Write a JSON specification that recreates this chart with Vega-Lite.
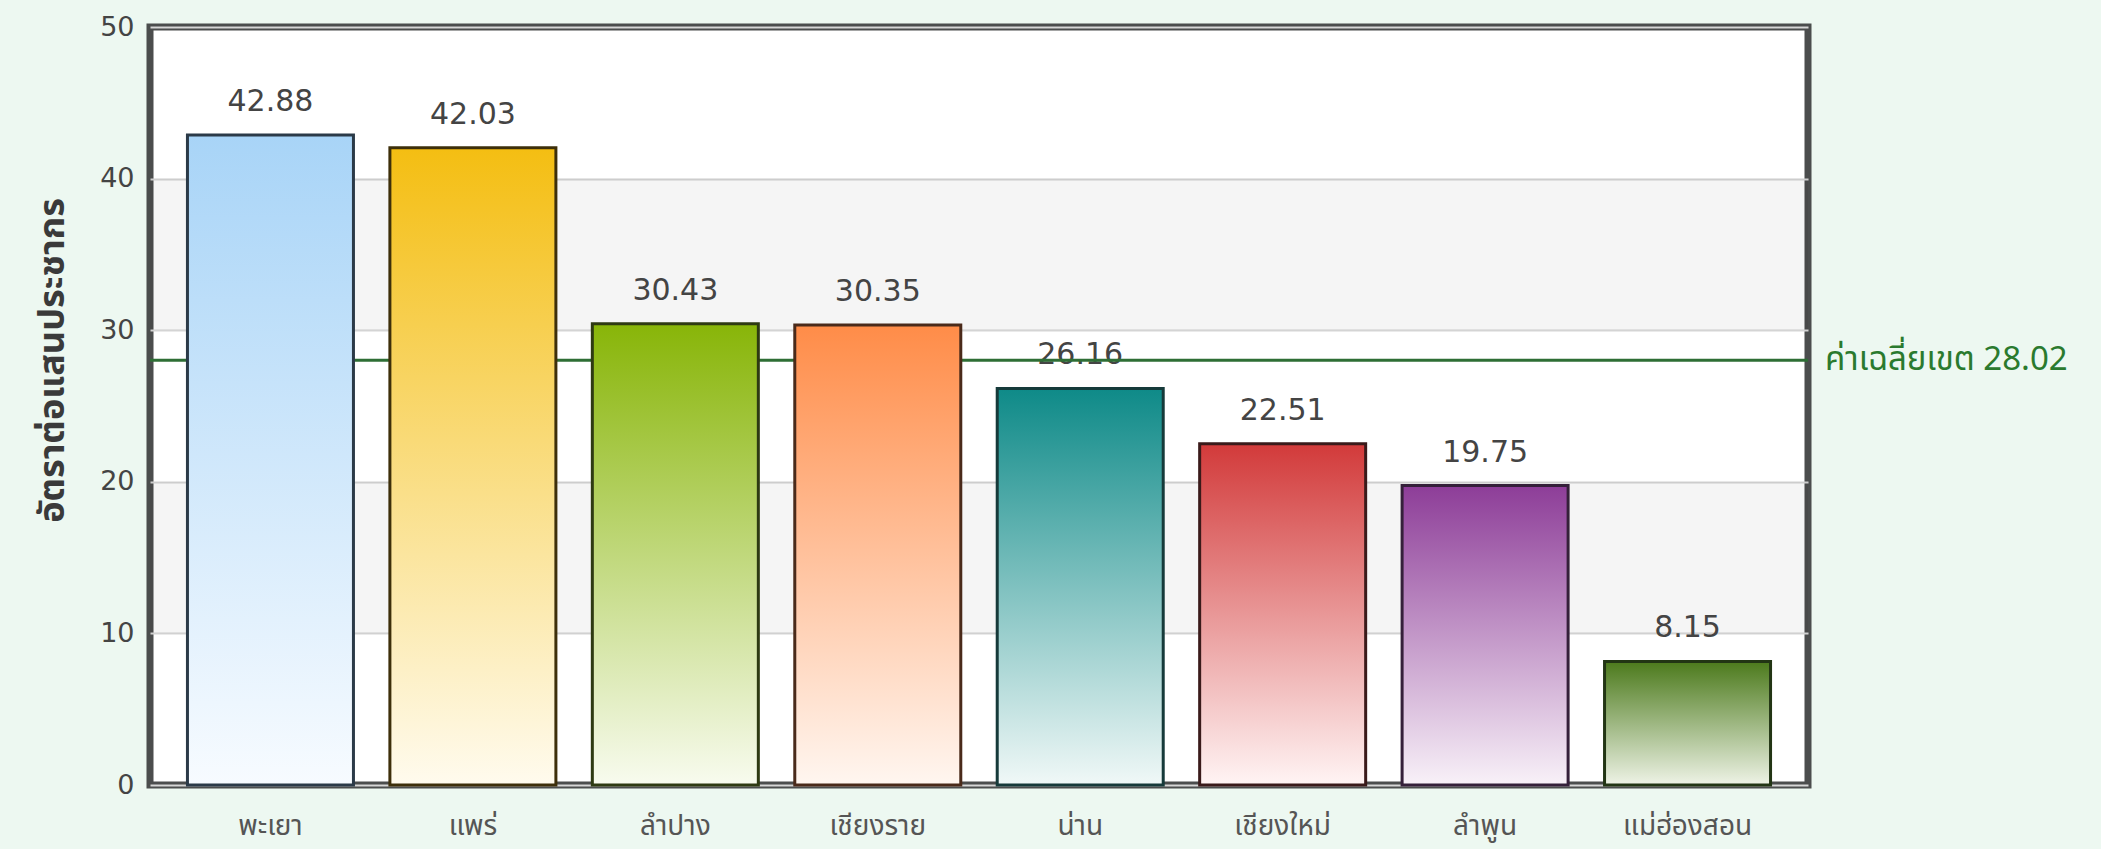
{
  "$schema": "https://vega.github.io/schema/vega-lite/v6.json",
  "width": 1658,
  "height": 758,
  "autosize": {"type": "none"},
  "padding": {"left": 150, "top": 27, "right": 293, "bottom": 64},
  "background": "#edf8f1",
  "config": {
    "view": {"fill": "white", "stroke": "#4b4d4d", "strokeWidth": 7},
    "font": "DejaVu Sans"
  },
  "datasets": {
    "rates": [
      {"province": "พะเยา", "rate": 42.88},
      {"province": "แพร่", "rate": 42.03},
      {"province": "ลำปาง", "rate": 30.43},
      {"province": "เชียงราย", "rate": 30.35},
      {"province": "น่าน", "rate": 26.16},
      {"province": "เชียงใหม่", "rate": 22.51},
      {"province": "ลำพูน", "rate": 19.75},
      {"province": "แม่ฮ่องสอน", "rate": 8.15}
    ],
    "bands": [
      {"lo": 10, "hi": 20},
      {"lo": 30, "hi": 40}
    ],
    "average": [
      {"label": "ค่าเฉลี่ยเขต 28.02", "value": 28.02}
    ]
  },
  "data": {"name": "rates"},
  "encoding": {
    "x": {
      "field": "province",
      "type": "nominal",
      "sort": null,
      "scale": {"paddingInner": 0.18, "paddingOuter": 0.185},
      "axis": {
        "title": null,
        "domain": false,
        "ticks": false,
        "labelAngle": 0,
        "labelFont": "Tahoma, Noto Sans Thai, Noto Sans, DejaVu Sans, sans-serif",
        "labelFontSize": 28,
        "labelColor": "#555555",
        "labelPadding": 41,
        "labelBaseline": "middle"
      }
    }
  },
  "layer": [
    {
      "data": {"name": "bands"},
      "mark": {"type": "rect", "fill": "#000000", "opacity": 0.04},
      "encoding": {
        "x": null,
        "y": {
          "field": "lo",
          "type": "quantitative",
          "scale": {"domain": [0, 50], "nice": false},
          "axis": {
            "title": "อัตราต่อแสนประชากร",
            "titleFont": "Tahoma, Noto Sans Thai, Noto Sans, DejaVu Sans, sans-serif",
            "titleFontSize": 36,
            "titleFontWeight": "bold",
            "titleColor": "#3a3a3a",
            "titleX": -98,
            "titleY": 333,
            "titleAlign": "center",
            "titleBaseline": "middle",
            "values": [0, 10, 20, 30, 40, 50],
            "domain": false,
            "ticks": false,
            "grid": true,
            "gridColor": "#d6d6d6",
            "gridWidth": 2,
            "labelFontSize": 27,
            "labelColor": "#444444",
            "labelPadding": 16
          }
        },
        "y2": {"field": "hi"}
      }
    },
    {
      "mark": {"type": "text", "baseline": "middle", "dy": -33, "fontSize": 30, "color": "#444444"},
      "encoding": {
        "y": {"field": "rate", "type": "quantitative"},
        "text": {"field": "rate", "type": "quantitative", "format": ".2f"}
      }
    },
    {
      "data": {"name": "average"},
      "mark": {"type": "rule", "color": "#2e6e35", "strokeWidth": 3},
      "encoding": {
        "x": null,
        "y": {"field": "value", "type": "quantitative"}
      }
    },
    {
      "transform": [{"filter": "datum.province === 'พะเยา'"}],
      "mark": {"type": "bar", "stroke": "#2b3a48", "strokeWidth": 3,
        "color": {"gradient": "linear", "x1": 0, "y1": 0, "x2": 0, "y2": 1,
          "stops": [{"offset": 0, "color": "#a8d4f7"}, {"offset": 1, "color": "#f7fbff"}]}},
      "encoding": {"y": {"field": "rate", "type": "quantitative"}}
    },
    {
      "transform": [{"filter": "datum.province === 'แพร่'"}],
      "mark": {"type": "bar", "stroke": "#3d2f0a", "strokeWidth": 3,
        "color": {"gradient": "linear", "x1": 0, "y1": 0, "x2": 0, "y2": 1,
          "stops": [{"offset": 0, "color": "#f4be12"}, {"offset": 1, "color": "#fffbee"}]}},
      "encoding": {"y": {"field": "rate", "type": "quantitative"}}
    },
    {
      "transform": [{"filter": "datum.province === 'ลำปาง'"}],
      "mark": {"type": "bar", "stroke": "#2e3a12", "strokeWidth": 3,
        "color": {"gradient": "linear", "x1": 0, "y1": 0, "x2": 0, "y2": 1,
          "stops": [{"offset": 0, "color": "#88b508"}, {"offset": 1, "color": "#f8fbef"}]}},
      "encoding": {"y": {"field": "rate", "type": "quantitative"}}
    },
    {
      "transform": [{"filter": "datum.province === 'เชียงราย'"}],
      "mark": {"type": "bar", "stroke": "#4a2a1a", "strokeWidth": 3,
        "color": {"gradient": "linear", "x1": 0, "y1": 0, "x2": 0, "y2": 1,
          "stops": [{"offset": 0, "color": "#ff8c48"}, {"offset": 1, "color": "#fff6f0"}]}},
      "encoding": {"y": {"field": "rate", "type": "quantitative"}}
    },
    {
      "transform": [{"filter": "datum.province === 'น่าน'"}],
      "mark": {"type": "bar", "stroke": "#163a3a", "strokeWidth": 3,
        "color": {"gradient": "linear", "x1": 0, "y1": 0, "x2": 0, "y2": 1,
          "stops": [{"offset": 0, "color": "#0e8a88"}, {"offset": 1, "color": "#f0f8f7"}]}},
      "encoding": {"y": {"field": "rate", "type": "quantitative"}}
    },
    {
      "transform": [{"filter": "datum.province === 'เชียงใหม่'"}],
      "mark": {"type": "bar", "stroke": "#3a1a1a", "strokeWidth": 3,
        "color": {"gradient": "linear", "x1": 0, "y1": 0, "x2": 0, "y2": 1,
          "stops": [{"offset": 0, "color": "#d23a3a"}, {"offset": 1, "color": "#fff4f4"}]}},
      "encoding": {"y": {"field": "rate", "type": "quantitative"}}
    },
    {
      "transform": [{"filter": "datum.province === 'ลำพูน'"}],
      "mark": {"type": "bar", "stroke": "#35203a", "strokeWidth": 3,
        "color": {"gradient": "linear", "x1": 0, "y1": 0, "x2": 0, "y2": 1,
          "stops": [{"offset": 0, "color": "#8d3d98"}, {"offset": 1, "color": "#f8f1f8"}]}},
      "encoding": {"y": {"field": "rate", "type": "quantitative"}}
    },
    {
      "transform": [{"filter": "datum.province === 'แม่ฮ่องสอน'"}],
      "mark": {"type": "bar", "stroke": "#223514", "strokeWidth": 3,
        "color": {"gradient": "linear", "x1": 0, "y1": 0, "x2": 0, "y2": 1,
          "stops": [{"offset": 0, "color": "#4c7a1c"}, {"offset": 1, "color": "#eef3e6"}]}},
      "encoding": {"y": {"field": "rate", "type": "quantitative"}}
    },
    {
      "data": {"name": "average"},
      "mark": {"type": "text", "align": "left", "baseline": "middle", "dx": 17, "fontSize": 33,
        "color": "#2a7a2e", "font": "Tahoma, Noto Sans Thai, Noto Sans, DejaVu Sans, sans-serif"},
      "encoding": {
        "x": {"value": "width"},
        "y": {"field": "value", "type": "quantitative"},
        "text": {"field": "label"}
      }
    }
  ]
}
